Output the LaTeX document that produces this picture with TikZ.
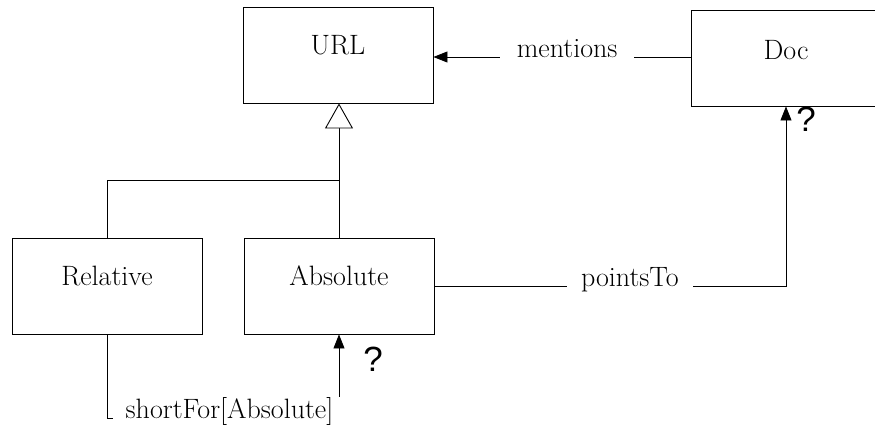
\documentclass[tikz,border=0pt]{standalone}
\usepackage{fontspec}
\usetikzlibrary{arrows.meta,positioning}
\newfontfamily\qfont{Liberation Sans}

\tikzset{
  cls/.style={draw, minimum width=190pt, minimum height=96pt, inner sep=0pt},
  clsname/.style={font=\fontsize{28}{32}\selectfont, inner sep=0pt},
  lbl/.style={font=\fontsize{28}{32}\selectfont, fill=white, anchor=base, inner xsep=0pt, inner ysep=0.5pt},
  assoc/.style={-{Triangle[length=14pt,width=11pt]}},
  gen/.style={-{Triangle[open,length=25pt,width=28pt,fill=white]}},
  mult/.style={font=\qfont\fontsize{35}{40}\selectfont, inner sep=0pt}
}

\begin{document}
\begin{tikzpicture}[x=1pt,y=-1pt,line width=0.9pt]
\useasboundingbox (0,0) rectangle (875,426);
% classes
\node[cls] (url) at (338,55) {};
\node[cls] (doc) at (786,58) {};
\node[cls] (rel) at (107,286) {};
\node[cls] (abs) at (339,286) {};
\node[clsname] (urlname) at ([yshift=10pt]url.center) {URL};
\node[clsname] (docname) at ([yshift=8pt]doc.center) {Doc};
\node[clsname] (relname) at ([yshift=10pt]rel.center) {Relative};
\node[clsname] (absname) at ([yshift=10pt]abs.center) {Absolute};
% inheritance
\coordinate (join) at (abs.north |- 0,180);
\draw[gen] (abs.north) -- (abs.north |- url.south);
\draw (rel.north) |- (join);
% associations
\draw[assoc] (doc.west |- 0,57) -- node[lbl, pos=0.48, minimum width=134pt] {mentions} (url.east |- 0,57);
\draw[assoc] (abs.east) -| node[lbl, pos=0.278, minimum width=126pt] {pointsTo} (doc.south);
\coordinate (turn) at (abs.south |- 0,418);
\draw[assoc] (rel.south) |- node[lbl, pos=0.764, minimum width=233pt] {shortFor[Absolute]} (turn) -- (abs.south);
% multiplicities
\node[mult] (docmult) at ([xshift=20pt,yshift=-13pt]doc.south) {?};
\node[mult] (absmult) at ([xshift=34pt,yshift=-25pt]abs.south) {?};
\end{tikzpicture}
\end{document}
